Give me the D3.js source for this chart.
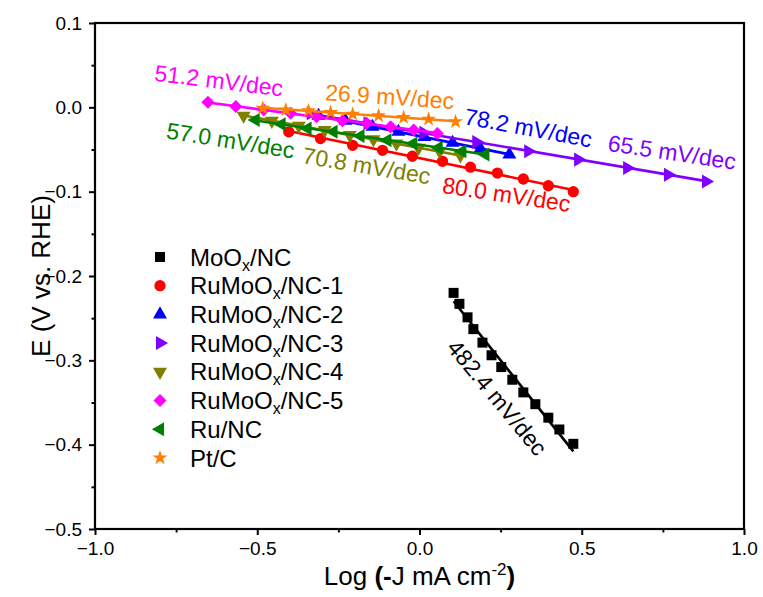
<!DOCTYPE html>
<html>
<head>
<meta charset="utf-8">
<script src="https://cdn.jsdelivr.net/npm/d3@7"></script>
<style>
  body { margin: 0; background: #fff; }
  text { font-family: "Liberation Sans", Arial, Helvetica, sans-serif; }
</style>
</head>
<body>
<svg id="chart" width="763" height="597"></svg>
<script>
// Tafel plots: E (V vs. RHE) against log(-J)
const seriesNames = ["MoOx/NC", "RuMoOx/NC-1", "RuMoOx/NC-2", "RuMoOx/NC-3",
                     "RuMoOx/NC-4", "RuMoOx/NC-5", "Ru/NC", "Pt/C"];
const seriesColors = ["#000000", "#FF0000", "#0000FF", "#8000FF",
                      "#808000", "#FF00FF", "#008000", "#FF8000"];
const tafelSlopes = [482.4, 80.0, 78.2, 65.5, 70.8, 51.2, 57.0, 26.9]; // mV/dec

const mooxLogJ = [0.105, 0.123, 0.148, 0.166, 0.194, 0.222, 0.252, 0.286, 0.320, 0.357, 0.397, 0.431, 0.474];
const mooxE    = [-0.220, -0.233, -0.249, -0.263, -0.279, -0.294, -0.308, -0.323, -0.338, -0.352, -0.368, -0.382, -0.399];

const ru1LogJ = [-0.403, -0.305, -0.206, -0.114, -0.022, 0.071, 0.157, 0.240, 0.320, 0.397, 0.474];
const ru1E    = [-0.029, -0.037, -0.045, -0.051, -0.058, -0.064, -0.071, -0.078, -0.085, -0.093, -0.100];

const ru2LogJ = [-0.311, -0.228, -0.145, -0.065, 0.015, 0.102, 0.188, 0.277];
const ru2E    = [-0.010, -0.016, -0.023, -0.029, -0.035, -0.042, -0.049, -0.056];

const ru3LogJ = [-0.335, -0.160, 0.012, 0.175, 0.335, 0.489, 0.640, 0.766, 0.883];
const ru3E    = [-0.007, -0.019, -0.030, -0.041, -0.052, -0.062, -0.072, -0.080, -0.088];

const ru4LogJ = [-0.542, -0.455, -0.372, -0.292, -0.215, -0.142, -0.071, -0.003, 0.062, 0.126];
const ru4E    = [-0.010, -0.016, -0.022, -0.027, -0.033, -0.038, -0.043, -0.048, -0.052, -0.057];

const ru5LogJ = [-0.652, -0.566, -0.480, -0.397, -0.317, -0.237, -0.163, -0.089, -0.018, 0.055];
const ru5E    = [0.006, 0.001, -0.003, -0.007, -0.011, -0.016, -0.019, -0.023, -0.027, -0.031];

const runcLogJ = [-0.505, -0.425, -0.345, -0.265, -0.182, -0.099, -0.019, 0.059, 0.132, 0.203];
const runcE    = [-0.015, -0.020, -0.025, -0.029, -0.034, -0.039, -0.043, -0.048, -0.052, -0.056];

const ptcLogJ = [-0.483, -0.412, -0.342, -0.274, -0.206, -0.126, -0.049, 0.028, 0.111];
const ptcE    = [-0.001, -0.003, -0.004, -0.006, -0.008, -0.010, -0.012, -0.014, -0.017];

const xTickValues = [-1.0, -0.5, 0.0, 0.5, 1.0];
const yTickValues = [0.1, 0.0, -0.1, -0.2, -0.3, -0.4, -0.5];

// Slope labels: centre position in data units and rotation in degrees
const labelLogJ  = [0.240, 0.268, 0.335, 0.778, -0.163, -0.618, -0.582, -0.092];
const labelE     = [-0.344, -0.103, -0.024, -0.053, -0.069, 0.032, -0.039, 0.013];
const labelAngle = [50.5, 8.5, 10.5, 8.5, 9.5, 7, 9, 4];

const xs = [mooxLogJ, ru1LogJ, ru2LogJ, ru3LogJ, ru4LogJ, ru5LogJ, runcLogJ, ptcLogJ];
const ys = [mooxE, ru1E, ru2E, ru3E, ru4E, ru5E, runcE, ptcE];

const plot = { left: 95, right: 744, top: 23, bottom: 529 };

const svg = d3.select("#chart");
const x = d3.scaleLinear().domain([-1, 1]).range([plot.left, plot.right]);
const y = d3.scaleLinear().domain([-0.5, 0.1]).range([plot.bottom, plot.top]);

// marker shapes: square, circle, up, right, down, diamond, left, star
const markerDefs = [
  { type: d3.symbolSquare, size: 100, rot: 0 },
  { type: d3.symbolCircle, size: 100, rot: 0 },
  { type: d3.symbolTriangle, size: 85, rot: 0 },
  { type: d3.symbolTriangle, size: 85, rot: 90 },
  { type: d3.symbolTriangle, size: 85, rot: 180 },
  { type: d3.symbolSquare, size: 85, rot: 45 },
  { type: d3.symbolTriangle, size: 85, rot: 270 },
  { type: d3.symbolStar, size: 70, rot: 0 }
];

// series: fitted Tafel line plus data markers
const gData = svg.append("g");
seriesNames.forEach((name, i) => {
  const px = xs[i], py = ys[i];
  const pts = px.map((v, k) => [v, py[k]]);
  const xm = d3.mean(px), ym = d3.mean(py);
  const b = -tafelSlopes[i] / 1000;
  const x0 = d3.min(px), x1 = d3.max(px);
  const g = gData.append("g");
  g.append("line")
    .attr("x1", x(x0)).attr("y1", y(ym + b * (x0 - xm)))
    .attr("x2", x(x1)).attr("y2", y(ym + b * (x1 - xm)))
    .attr("stroke", seriesColors[i]).attr("stroke-width", 2.6);
  const m = markerDefs[i];
  const sym = d3.symbol().type(m.type).size(m.size);
  g.selectAll("path").data(pts).join("path")
    .attr("d", sym)
    .attr("transform", d => `translate(${x(d[0])},${y(d[1])}) rotate(${m.rot})`)
    .attr("fill", seriesColors[i]);
});

// slope annotations
const gLabels = svg.append("g");
seriesNames.forEach((name, i) => {
  const cx = x(labelLogJ[i]), cy = y(labelE[i]);
  gLabels.append("text")
    .attr("transform", `translate(${cx},${cy}) rotate(${labelAngle[i]})`)
    .attr("text-anchor", "middle")
    .attr("dy", "0.36em")
    .attr("font-size", 23)
    .attr("fill", seriesColors[i])
    .text(tafelSlopes[i].toFixed(1) + " mV/dec");
});

// axes
const fmt = d3.format(".1f");
const xAxis = svg.append("g").attr("transform", `translate(0,${plot.bottom})`)
  .call(d3.axisBottom(x).tickValues(xTickValues).tickFormat(fmt).tickSize(6).tickSizeOuter(0).tickPadding(7));
const xMinor = svg.append("g").attr("transform", `translate(0,${plot.bottom})`)
  .call(d3.axisBottom(x).tickValues([-0.75, -0.25, 0.25, 0.75]).tickFormat("").tickSize(3.5).tickSizeOuter(0));
const yAxis = svg.append("g").attr("transform", `translate(${plot.left},0)`)
  .call(d3.axisLeft(y).tickValues(yTickValues).tickFormat(fmt).tickSize(6).tickSizeOuter(0).tickPadding(7));
const yMinor = svg.append("g").attr("transform", `translate(${plot.left},0)`)
  .call(d3.axisLeft(y).tickValues([0.05, -0.05, -0.15, -0.25, -0.35, -0.45]).tickFormat("").tickSize(3.5).tickSizeOuter(0));
[xAxis, xMinor, yAxis, yMinor].forEach(a => {
  a.select(".domain").remove();
  a.selectAll(".tick line").attr("stroke", "#000").attr("stroke-width", 2);
  a.selectAll(".tick text").attr("font-size", 19).attr("fill", "#000")
    .style("font-family", '"Liberation Sans", Arial, sans-serif');
});

// frame
svg.append("rect")
  .attr("x", plot.left).attr("y", plot.top)
  .attr("width", plot.right - plot.left).attr("height", plot.bottom - plot.top)
  .attr("fill", "none").attr("stroke", "#000").attr("stroke-width", 2.2);

// axis titles
const xt = svg.append("text")
  .attr("x", (plot.left + plot.right) / 2).attr("y", 585)
  .attr("text-anchor", "middle").attr("font-size", 26);
xt.append("tspan").text("Log ");
xt.append("tspan").attr("font-weight", "bold").text("(-");
xt.append("tspan").text("J mA cm");
xt.append("tspan").attr("font-size", 17).attr("dy", -10).text("-2");
xt.append("tspan").attr("font-weight", "bold").attr("dy", 10).text(")");

svg.append("text")
  .attr("transform", `translate(50,${(plot.top + plot.bottom) / 2}) rotate(-90)`)
  .attr("text-anchor", "middle").attr("font-size", 26)
  .text("E (V vs. RHE)");

// legend
const legend = svg.append("g");
seriesNames.forEach((name, i) => {
  const ly = 257 + i * 28.7;
  const m = markerDefs[i];
  legend.append("path")
    .attr("d", d3.symbol().type(m.type).size(m.size))
    .attr("transform", `translate(160,${ly}) rotate(${m.rot})`)
    .attr("fill", seriesColors[i]);
  const t = legend.append("text").attr("x", 190).attr("y", ly).attr("dy", "0.36em").attr("font-size", 24);
  const parts = name.split("Ox");
  if (parts.length > 1) {
    t.append("tspan").text(parts[0] + "O");
    t.append("tspan").attr("font-size", 16).attr("dy", 5).text("x");
    t.append("tspan").attr("dy", -5).text(parts[1]);
  } else {
    t.text(name);
  }
});
</script>
</body>
</html>
